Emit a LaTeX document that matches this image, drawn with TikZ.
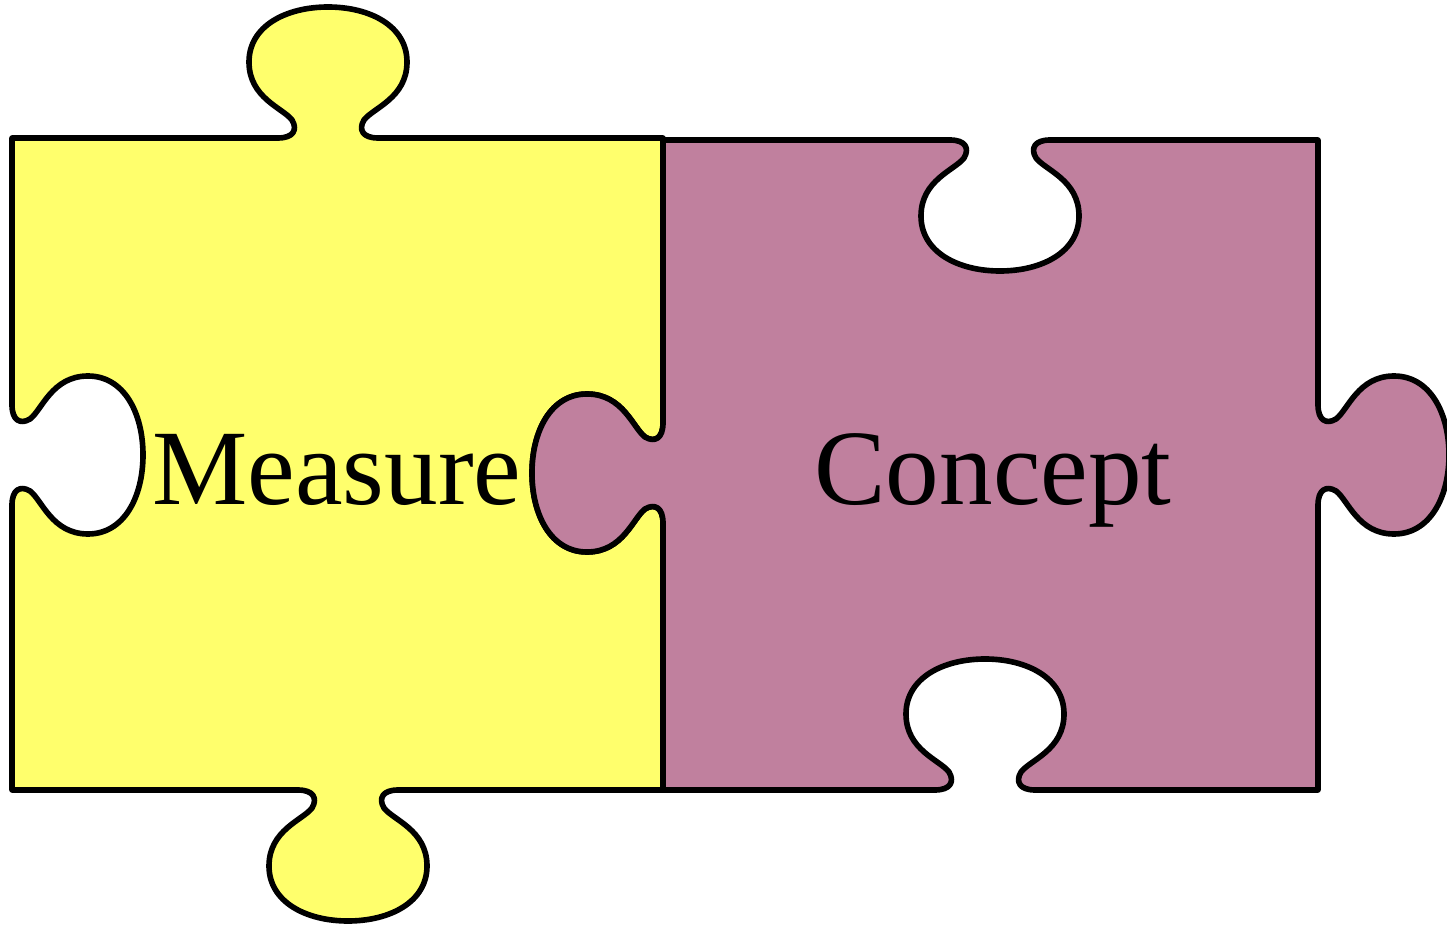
\documentclass[tikz,border=0pt]{standalone}
\usepackage{fontspec}
\setmainfont{Liberation Serif}

\definecolor{measureyellow}{RGB}{255,255,108}
\definecolor{conceptmauve}{RGB}{192,128,158}

% one knob of a puzzle edge, drawn along the travel direction (#3);
% #4 = 1 gives a hole (bulge to the left), #4 = -1 a tab (bulge to the right)
\newcommand{\knob}[4]{%
  {[shift={(#1,#2)}, rotate=#3, yscale=#4]
   -- (-50,0) .. controls (-35,0) and (-30,8) .. (-36,18)
   .. controls (-45,30) and (-79,40) .. (-79,76)
   .. controls (-79,112) and (-42,131) .. (0,131)
   .. controls (42,131) and (79,112) .. (79,76)
   .. controls (79,40) and (45,30) .. (36,18)
   .. controls (30,8) and (35,0) .. (50,0)}}

\begin{document}
\begin{tikzpicture}[
    x=0.02cm, y=0.02cm,
    piece/.style={draw=black, line width=3.2pt, line join=round},
    measurepiece/.style={piece, fill=measureyellow},
    conceptpiece/.style={piece, fill=conceptmauve},
    word/.style={anchor=base, inner sep=0pt, font=\fontsize{61}{72}\selectfont}
]
\useasboundingbox (0,0) rectangle (1447,924);

% Measure piece
\filldraw[measurepiece] (12,134) \knob{348}{134}{0}{-1} -- (663,134)
  \knob{663}{451}{90}{1} -- (663,786)
  \knob{328}{786}{180}{-1} -- (12,786)
  \knob{12}{469}{270}{1} -- cycle;

% Concept piece
\filldraw[conceptpiece] (663,134) \knob{985}{134}{0}{1} -- (1318,134)
  \knob{1318}{469}{90}{-1} -- (1318,784)
  \knob{1000}{784}{180}{1} -- (663,784)
  \knob{663}{451}{270}{-1} -- cycle;

% Labels
\node[word] (measure) at (337,419) {Measure};
\node[word] (concept) at (993,419) {Concept};

\end{tikzpicture}
\end{document}
